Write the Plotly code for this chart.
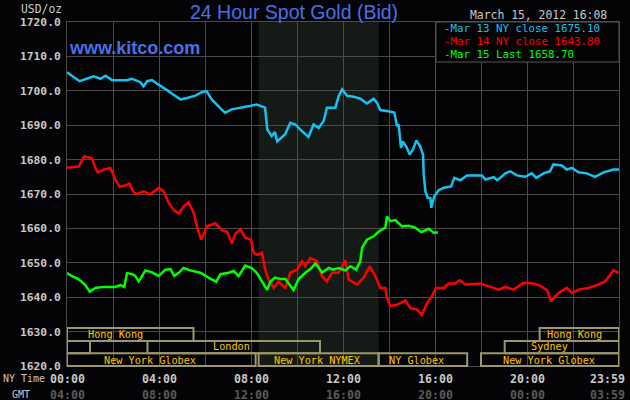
import plotly.graph_objects as go

# ---------------- data ----------------
mar13_hours = [0.00, 0.22, 0.55, 1.16, 1.45, 1.67, 1.96, 2.60, 2.83, 3.19, 3.33, 3.48, 3.70, 3.90, 4.06,
               4.35, 4.60, 4.93, 5.22, 5.58, 5.86, 6.07, 6.29, 6.58, 6.87, 7.16, 7.52, 7.96, 8.25, 8.61,
               8.71, 8.90, 9.04, 9.14, 9.30, 9.48, 9.71, 9.93, 10.14, 10.50, 10.72, 10.94, 11.16, 11.30,
               11.67, 11.81, 11.96, 12.17, 12.46, 12.75, 13.04, 13.33, 13.48, 13.62, 13.91, 14.23, 14.35,
               14.42, 14.52, 14.60, 14.75, 14.90, 15.04, 15.19, 15.36, 15.48, 15.51, 15.58, 15.68, 15.80,
               15.84, 15.97, 16.16, 16.38, 16.70, 16.84, 17.10, 17.39, 18.04, 18.19, 18.55, 18.70, 18.84,
               19.06, 19.27, 19.56, 19.92, 20.21, 20.40, 20.72, 21.00, 21.15, 21.51, 21.73, 21.95, 22.24,
               22.60, 22.96, 23.33, 23.76, 24.00]
mar13_values = [1705.4, 1704.4, 1702.8, 1704.2, 1703.5, 1704.4, 1703.1, 1703.1, 1703.5, 1702.5, 1701.3,
                1702.8, 1703.1, 1702.1, 1701.5, 1700.2, 1699.0, 1697.5, 1697.9, 1698.6, 1699.6, 1699.9,
                1697.5, 1695.5, 1693.6, 1694.6, 1695.0, 1695.5, 1696.0, 1695.1, 1688.7, 1686.8, 1688.0,
                1685.3, 1686.3, 1687.3, 1690.7, 1690.2, 1688.7, 1686.6, 1690.2, 1689.2, 1691.2, 1695.1,
                1695.1, 1698.4, 1700.4, 1698.6, 1698.3, 1697.7, 1696.3, 1697.7, 1696.5, 1694.4, 1694.1,
                1693.7, 1689.7, 1690.2, 1683.4, 1685.3, 1683.8, 1681.5, 1682.9, 1685.6, 1683.8, 1681.5,
                1675.7, 1670.8, 1668.9, 1668.8, 1666.0, 1669.4, 1671.1, 1671.8, 1672.2, 1674.7, 1674.0,
                1675.4, 1675.4, 1674.2, 1674.9, 1674.0, 1674.7, 1676.0, 1676.6, 1675.4, 1675.0, 1676.0,
                1674.7, 1676.0, 1676.6, 1678.6, 1678.3, 1677.1, 1677.6, 1676.3, 1676.0, 1675.0, 1676.3,
                1677.1, 1677.1]

mar14_hours = [0.00, 0.29, 0.51, 0.75, 1.09, 1.23, 1.33, 1.59, 1.88, 2.10, 2.29, 2.54, 2.72, 2.87, 3.01,
               3.33, 3.62, 3.99, 4.20, 4.42, 4.64, 4.86, 5.07, 5.29, 5.51, 5.65, 5.83, 6.09, 6.45, 6.74,
               6.96, 7.17, 7.32, 7.54, 7.75, 8.00, 8.12, 8.26, 8.48, 8.62, 8.77, 8.99, 9.20, 9.35, 9.49,
               9.71, 10.00, 10.22, 10.36, 10.58, 10.87, 11.09, 11.30, 11.52, 11.81, 12.10, 12.25, 12.61,
               12.90, 13.16, 13.41, 13.62, 13.84, 13.91, 14.06, 14.35, 14.71, 14.93, 15.22, 15.43, 15.65,
               15.87, 16.04, 16.38, 16.59, 16.88, 17.07, 17.32, 17.97, 18.41, 18.77, 19.06, 19.42, 19.85,
               20.29, 20.58, 20.87, 20.98, 21.04, 21.23, 21.45, 21.73, 21.95, 22.24, 22.68, 23.11, 23.40,
               23.54, 23.76, 23.98]
mar14_values = [1677.6, 1677.8, 1678.0, 1681.0, 1680.3, 1677.6, 1676.3, 1677.1, 1677.6, 1674.2, 1672.1,
                1672.5, 1673.0, 1670.8, 1669.9, 1670.8, 1669.9, 1671.8, 1670.8, 1667.4, 1665.3, 1664.3,
                1666.4, 1667.6, 1664.5, 1660.6, 1656.7, 1660.6, 1661.5, 1659.5, 1659.0, 1655.7, 1658.4,
                1659.7, 1657.3, 1656.7, 1652.9, 1652.3, 1652.9, 1648.0, 1645.1, 1642.7, 1644.6, 1643.5,
                1642.7, 1647.1, 1648.0, 1650.4, 1649.0, 1651.4, 1650.5, 1646.1, 1644.6, 1647.1, 1647.1,
                1650.7, 1645.1, 1643.7, 1645.7, 1649.0, 1646.1, 1642.7, 1642.7, 1639.8, 1637.4, 1637.8,
                1639.1, 1636.8, 1636.4, 1634.9, 1638.2, 1640.4, 1642.7, 1642.7, 1644.0, 1644.0, 1644.9,
                1643.7, 1644.0, 1643.0, 1642.2, 1643.0, 1642.2, 1644.2, 1644.0, 1643.3, 1642.0, 1640.1,
                1638.8, 1640.3, 1641.6, 1642.7, 1641.2, 1642.2, 1642.7, 1643.7, 1644.6, 1645.9, 1647.8,
                1647.1]

mar15_hours = [0.00, 0.22, 0.51, 0.80, 0.99, 1.23, 1.59, 1.88, 2.10, 2.32, 2.49, 2.61, 2.83, 2.97, 3.12,
               3.41, 3.70, 3.99, 4.28, 4.50, 4.66, 4.86, 5.07, 5.36, 5.80, 6.23, 6.49, 6.67, 7.03, 7.25,
               7.46, 7.75, 8.03, 8.25, 8.48, 8.70, 8.84, 9.04, 9.28, 9.49, 9.85, 10.07, 10.36, 10.58,
               10.80, 11.09, 11.38, 11.58, 11.81, 12.10, 12.32, 12.57, 12.75, 12.83, 13.04, 13.33, 13.55,
               13.84, 13.91, 14.06, 14.28, 14.57, 14.86, 15.14, 15.40, 15.73, 15.95, 16.13]
mar15_values = [1647.0, 1646.1, 1645.2, 1643.5, 1641.6, 1642.7, 1643.0, 1643.0, 1643.0, 1643.5, 1643.0,
                1647.0, 1646.7, 1646.2, 1644.6, 1647.8, 1647.2, 1646.2, 1648.0, 1648.2, 1646.2, 1647.1,
                1648.5, 1647.8, 1647.1, 1645.4, 1644.5, 1646.7, 1647.1, 1647.6, 1646.1, 1649.2, 1648.5,
                1647.1, 1644.6, 1642.1, 1644.5, 1645.7, 1645.3, 1645.3, 1642.1, 1645.3, 1647.1, 1648.2,
                1649.8, 1647.2, 1648.5, 1648.0, 1648.5, 1647.8, 1649.0, 1648.0, 1650.4, 1654.4, 1656.7,
                1657.7, 1659.1, 1660.2, 1663.5, 1662.1, 1662.4, 1660.6, 1660.8, 1660.2, 1658.9, 1659.9,
                1658.7, 1658.9]

legend_labels = ["-Mar 13 NY close 1675.10", "-Mar 14 NY close 1643.80", "-Mar 15 Last 1658.70"]

ny_tick_hours = [0, 4, 8, 12, 16, 20, 23.52]
ny_tick_labels = ["00:00", "04:00", "08:00", "12:00", "16:00", "20:00", "23:59"]
gmt_tick_labels = ["04:00", "08:00", "12:00", "16:00", "20:00", "00:00", "03:59"]

nymex_open, nymex_close = 8.33, 13.55

# sessions: row, start, end, label, label centre
session_rows = [1, 1, 2, 2, 2, 3, 3, 3, 3]
session_starts = [0.0, 20.55, 0.0, 3.5, 19.03, 0.0, 8.33, 13.55, 18.0]
session_ends = [5.5, 24.0, 1.0, 11.0, 24.0, 8.2, 13.55, 17.4, 24.0]
session_labels = ["Hong Kong", "Hong Kong", "", "London", "Sydney",
                  "New York Globex", "New York NYMEX", "NY Globex", "New York Globex"]
session_label_x = [2.1, 22.07, 0.5, 7.14, 20.97, 3.63, 10.9, 15.19, 20.97]

# ---------------- style ----------------
BG = "#040406"
GRID = "#4a4a4a"
CYAN = "#14c3f0"
RED = "#ff0000"
GREEN = "#00ff00"
BLUE = "#4a6fe8"
LIGHT = "#c8c8c8"
DARK = "#5a5a5a"
MONO = "DejaVu Sans Mono"

W, H = 630, 400
ML, MR, MT, MB = 67, 11, 22, 34
PW, PH = W - ML - MR, H - MT - MB


def px_x(p):
    return (p - ML) / PW


def px_y(p):
    return (H - MB - p) / PH


fig = go.Figure()
series = [(mar13_hours, mar13_values, CYAN), (mar14_hours, mar14_values, RED),
          (mar15_hours, mar15_values, GREEN)]
for hrs, vals, col in series:
    fig.add_trace(go.Scatter(x=hrs, y=vals, mode="lines", line=dict(color=col, width=2.5),
                             showlegend=False, hoverinfo="skip"))

shapes = []
# NYMEX shading
shapes.append(dict(type="rect", xref="x", yref="paper", x0=nymex_open, x1=nymex_close, y0=0, y1=1,
                   fillcolor="#161a16", line=dict(width=0), layer="below"))
# session boxes
row_bounds = {1: (px_y(341), px_y(328)), 2: (px_y(353.3), px_y(341)), 3: (0.0, px_y(353.3))}
row_text_y = {1: px_y(334.3), 2: px_y(346.8), 3: px_y(360)}
annotations = []
for r, s, e, lab, lx in zip(session_rows, session_starts, session_ends, session_labels, session_label_x):
    y0, y1 = row_bounds[r]
    shapes.append(dict(type="rect", xref="x", yref="paper", x0=s, x1=e, y0=y0, y1=y1,
                       line=dict(color="#9a976c", width=2), fillcolor="rgba(0,0,0,0)", layer="above"))
    if lab:
        annotations.append(dict(x=lx, y=row_text_y[r], xref="x", yref="paper", text=lab,
                                showarrow=False, xanchor="center", yanchor="middle", height=11,
                                font=dict(family=MONO, size=10.2, color="#ffc400")))

# legend box
shapes.append(dict(type="rect", xref="paper", yref="paper", x0=px_x(436), x1=1.0, y0=px_y(62), y1=1.0,
                   fillcolor=BG, line=dict(color="#555555", width=1), layer="above"))
for i, (lab, col) in enumerate(zip(legend_labels, [CYAN, RED, GREEN])):
    annotations.append(dict(x=px_x(442), y=px_y(28.5 + 13 * i), xref="paper", yref="paper", text=lab,
                            showarrow=False, xanchor="left", yanchor="middle", height=11,
                            font=dict(family=MONO, size=10.8, color=col)))

# x labels
for hx, a, b in zip(ny_tick_hours, ny_tick_labels, gmt_tick_labels):
    annotations.append(dict(x=hx, y=px_y(378.5), xref="x", yref="paper", text="<b>" + a + "</b>",
                            showarrow=False, xanchor="center", yanchor="middle", height=13,
                            font=dict(family=MONO, size=11.6, color=LIGHT)))
    annotations.append(dict(x=hx, y=px_y(394), xref="x", yref="paper", text="<b>" + b + "</b>",
                            showarrow=False, xanchor="center", yanchor="middle", height=13,
                            font=dict(family=MONO, size=11.6, color=DARK)))
annotations.append(dict(x=px_x(23.5), y=px_y(378.5), xref="paper", yref="paper", text="NY Time",
                        showarrow=False, xanchor="center", yanchor="middle", height=13,
                        font=dict(family=MONO, size=10, color=LIGHT)))
annotations.append(dict(x=px_x(20.5), y=px_y(394), xref="paper", yref="paper", text="GMT",
                        showarrow=False, xanchor="center", yanchor="middle", height=13,
                        font=dict(family=MONO, size=10, color=LIGHT)))
# other text
annotations.append(dict(x=px_x(41), y=px_y(9), xref="paper", yref="paper", text="USD/oz",
                        showarrow=False, xanchor="center", yanchor="middle",
                        font=dict(family=MONO, size=11.4, color=LIGHT)))
annotations.append(dict(x=px_x(294), y=px_y(12), xref="paper", yref="paper",
                        text="24 Hour Spot Gold (Bid)", showarrow=False, xanchor="center",
                        yanchor="middle", font=dict(family="Liberation Sans", size=19.5, color=BLUE)))
annotations.append(dict(x=px_x(67), y=px_y(48), xref="paper", yref="paper",
                        text="<b>www.kitco.com</b>", showarrow=False, xanchor="left",
                        yanchor="middle", font=dict(family="Liberation Sans", size=18, color=BLUE)))
annotations.append(dict(x=px_x(609), y=px_y(15), xref="paper", yref="paper",
                        text="March 15, 2012 16:08", showarrow=False, xanchor="right",
                        yanchor="middle", font=dict(family=MONO, size=11.4, color=LIGHT)))

fig.update_layout(
    width=W, height=H, margin=dict(l=ML, r=MR, t=MT, b=MB),
    paper_bgcolor=BG, plot_bgcolor=BG,
    shapes=shapes, annotations=annotations,
    xaxis=dict(range=[0, 24], tickvals=list(range(0, 25, 2)), showticklabels=False,
               showgrid=True, gridcolor=GRID, gridwidth=1, zeroline=False,
               showline=True, linecolor=GRID, linewidth=1, mirror=True, fixedrange=True),
    yaxis=dict(range=[1620, 1720], dtick=10, tickformat=".1f", showgrid=True, gridcolor=GRID,
               gridwidth=1, zeroline=False, showline=True, linecolor=GRID, linewidth=1, mirror=True,
               tickfont=dict(family=MONO, size=11.3, color=LIGHT, weight="bold"),
               ticks="outside", ticklen=3, tickcolor=BG, fixedrange=True),
    showlegend=False,
)

fig.write_html("out.html")
